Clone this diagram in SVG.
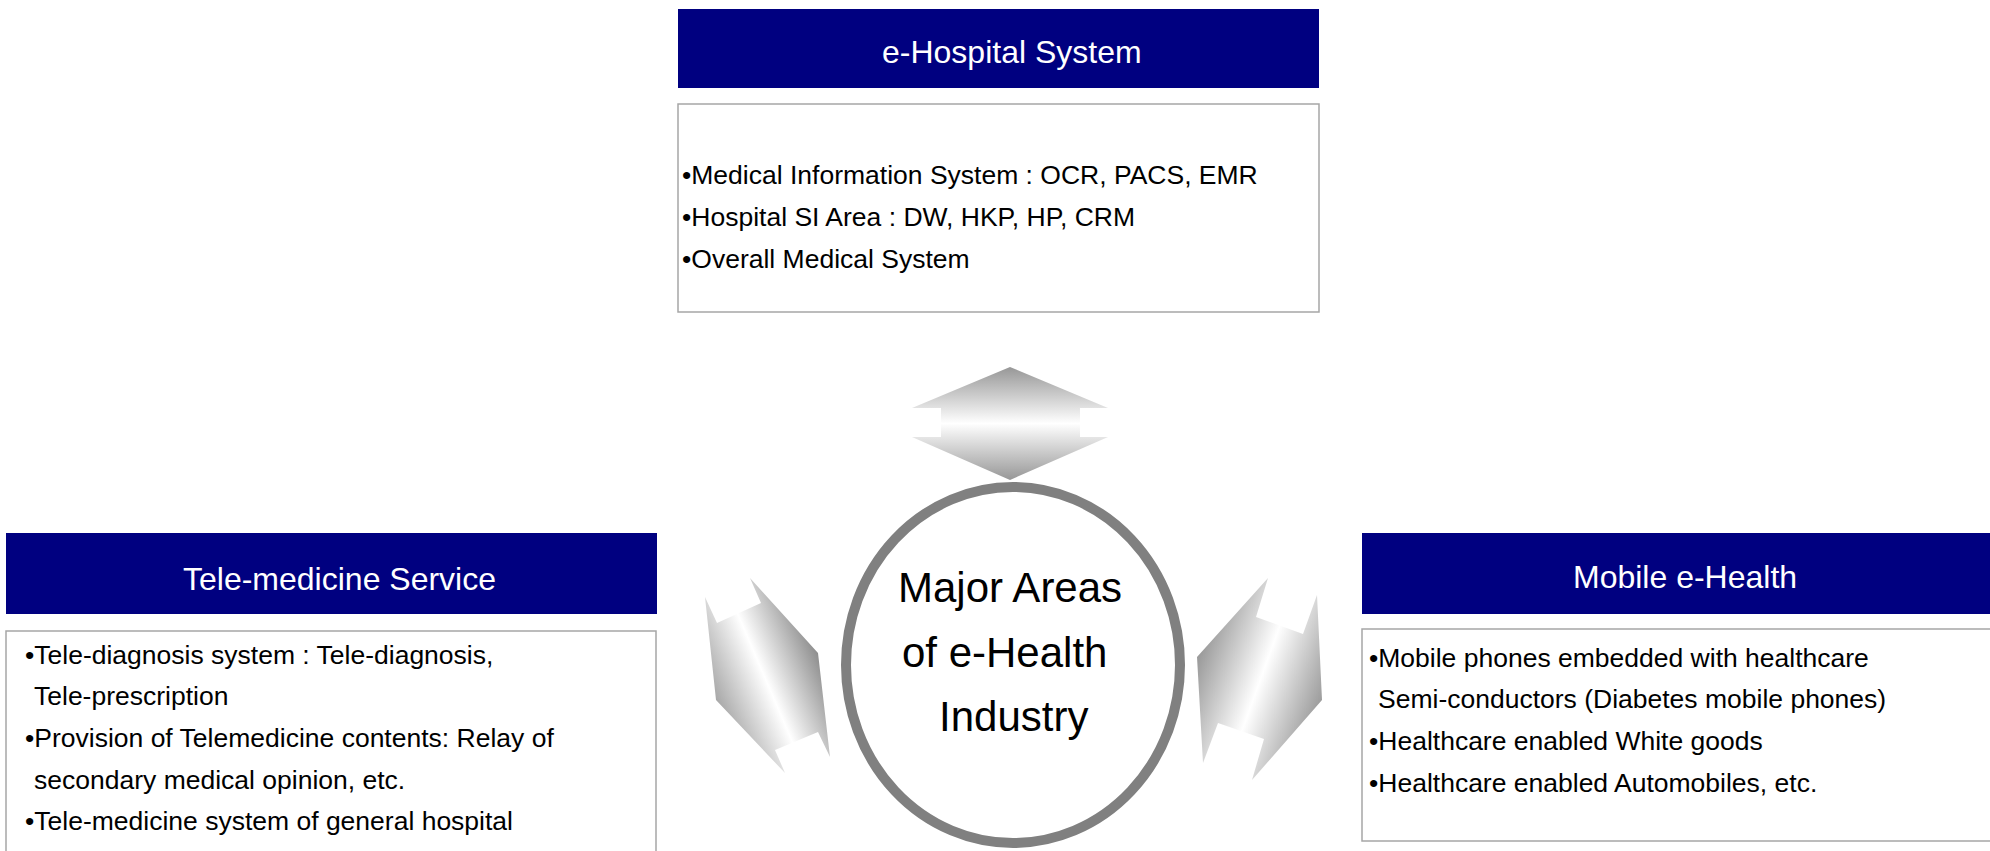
<svg xmlns="http://www.w3.org/2000/svg" width="1990" height="851" viewBox="0 0 1990 851">
  <style>
    .hdr { fill: #000080; }
    .body { fill: #ffffff; stroke: #a6a6a6; stroke-width: 1.5; }
    .title { font-family: "Liberation Sans", Arial, sans-serif; font-size: 32px; fill: #ffffff; }
    .item { font-family: "Liberation Sans", Arial, sans-serif; font-size: 26.5px; fill: #000000; }
    .hub { font-family: "Liberation Sans", Arial, sans-serif; font-size: 42px; fill: #000000; }
  </style>
  <defs>
    <linearGradient id="gradV" x1="0" y1="0" x2="0" y2="1">
      <stop offset="0" stop-color="#979797"/>
      <stop offset="0.5" stop-color="#ffffff"/>
      <stop offset="1" stop-color="#979797"/>
    </linearGradient>
    <linearGradient id="gradL" gradientUnits="userSpaceOnUse" x1="716" y1="700" x2="819" y2="656">
      <stop offset="0" stop-color="#a8a8a8"/>
      <stop offset="0.48" stop-color="#ffffff"/>
      <stop offset="1" stop-color="#8e8e8e"/>
    </linearGradient>
    <linearGradient id="gradR" gradientUnits="userSpaceOnUse" x1="1322" y1="700" x2="1200" y2="656">
      <stop offset="0" stop-color="#9c9c9c"/>
      <stop offset="0.5" stop-color="#ffffff"/>
      <stop offset="1" stop-color="#9c9c9c"/>
    </linearGradient>
  </defs>

  <rect width="1990" height="851" fill="#ffffff"/>

  <!-- connectors: double-headed block arrows around the hub -->
  <g id="connectors">
    <polygon id="arrow-top" fill="url(#gradV)"
      points="1010,367 1108,408 1080,408 1080,437 1108,437 1010,480 912,437 941,437 941,408 912,408"/>
    <polygon id="arrow-left" fill="url(#gradL)"
      points="716,700 785,773 775,750 818,732 830,757 818,653 750,578 761,603 717,623 705,597"/>
    <polygon id="arrow-right" fill="url(#gradR)"
      points="1322,700 1252,780 1264,739 1218,723 1203,763 1197,657 1268,578 1256,617 1303,634 1317,595"/>
  </g>

  <!-- top: e-Hospital System -->
  <g id="node-ehospital">
    <rect class="hdr" x="678" y="9" width="641" height="79"/>
    <text class="title" x="882" y="63">e-Hospital System</text>
    <rect class="body" x="678" y="104" width="641" height="208"/>
    <text class="item" x="682" y="184">•Medical Information System : OCR, PACS, EMR</text>
    <text class="item" x="682" y="226">•Hospital SI Area : DW, HKP, HP, CRM</text>
    <text class="item" x="682" y="268">•Overall Medical System</text>
  </g>

  <!-- left: Tele-medicine Service -->
  <g id="node-telemedicine">
    <rect class="hdr" x="6" y="533" width="651" height="81"/>
    <text class="title" x="183" y="590">Tele-medicine Service</text>
    <rect class="body" x="6" y="631" width="650" height="240"/>
    <text class="item" x="25" y="664">•Tele-diagnosis system : Tele-diagnosis,</text>
    <text class="item" x="34" y="705">Tele-prescription</text>
    <text class="item" x="25" y="747">•Provision of Telemedicine contents: Relay of</text>
    <text class="item" x="34" y="789">secondary medical opinion, etc.</text>
    <text class="item" x="25" y="830">•Tele-medicine system of general hospital</text>
  </g>

  <!-- right: Mobile e-Health -->
  <g id="node-mobile">
    <rect class="hdr" x="1362" y="533" width="640" height="81"/>
    <text class="title" x="1573" y="588">Mobile e-Health</text>
    <rect class="body" x="1362" y="629" width="640" height="212"/>
    <text class="item" x="1369" y="667">•Mobile phones embedded with healthcare</text>
    <text class="item" x="1378" y="708">Semi-conductors (Diabetes mobile phones)</text>
    <text class="item" x="1369" y="750">•Healthcare enabled White goods</text>
    <text class="item" x="1369" y="792">•Healthcare enabled Automobiles, etc.</text>
  </g>

  <!-- centre hub -->
  <g id="node-hub">
    <ellipse cx="1013" cy="665" rx="167" ry="178" fill="#ffffff" stroke="#808080" stroke-width="10"/>
    <text class="hub" x="898" y="602">Major Areas</text>
    <text class="hub" x="902" y="667">of e-Health</text>
    <text class="hub" x="939" y="731">Industry</text>
  </g>
</svg>
